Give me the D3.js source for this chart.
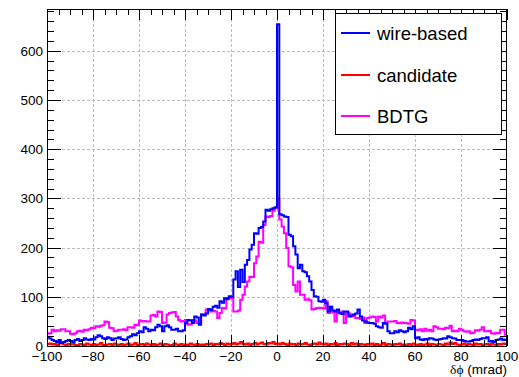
<!DOCTYPE html>
<html><head><meta charset="utf-8">
<script src="https://cdn.jsdelivr.net/npm/d3@7"></script>
<style>body{margin:0;background:#fff;} svg{display:block;}</style>
</head><body>
<svg id="c" width="519" height="377"></svg>
<script>
// ---- data ----
const binEdgesStart = -100; // first bin lower edge (mrad), bin width 1
const binWidth = 1;
const wireBased = [
 18,15,12,10,8,12,6,8,10,12,
 10,8,12,14,10,12,16,13,12,14,
 13,18,22,20,16,14,18,16,12,15,
 16,18,14,12,13,18,20,24,22,26,
 30,28,38,35,30,33,32,38,43,40,
 30,40,42,38,33,33,35,30,30,32,
 47,53,52,47,60,58,43,64,62,66,
 75,73,80,82,78,91,88,97,95,101,
 100,135,152,120,155,130,165,175,196,206,
 229,228,240,242,253,277,275,278,280,282,
 654,268,266,263,262,226,223,203,186,158,
 165,152,150,142,131,114,101,100,91,90,
 94,87,70,80,72,70,74,67,65,70,
 70,60,62,64,66,74,60,52,50,48,
 47,47,45,40,38,37,47,45,30,26,
 26,30,28,32,30,28,30,37,34,40,
 16,18,13,12,14,13,16,15,13,12,
 13,14,16,15,20,18,16,15,12,12,
 12,10,9,9,10,12,13,12,14,16,
 16,18,9,10,8,12,13,15,12,13
];
const candidate = [
 4,5,3,4,2,5,6,3,2,4,
 3,5,2,1,4,3,2,5,3,2,
 4,2,3,6,2,1,3,4,2,5,
 3,2,4,1,3,5,2,3,6,2,
 3,4,2,5,3,1,4,2,3,5,
 2,4,3,1,2,5,3,2,4,1,
 3,2,5,3,1,4,2,3,2,4,
 3,5,2,4,3,6,4,2,5,3,
 4,6,3,5,8,4,3,5,2,4,
 6,3,5,7,4,3,6,5,8,4,
 5,3,6,4,2,5,3,4,2,5,
 3,4,6,3,2,4,5,3,7,4,
 3,5,2,4,3,6,2,4,3,5,
 4,2,6,3,5,2,4,3,2,4,
 3,5,2,4,1,3,6,2,4,3,
 2,4,3,5,2,3,1,4,2,5,
 3,2,4,1,3,5,2,4,3,2,
 4,3,2,5,3,7,4,6,3,2,
 3,5,2,4,3,2,5,3,4,2,
 3,4,2,5,3,2,4,3,5,4
];
const bdtg = [
 25,26,33,30,32,31,34,34,30,30,
 25,24,26,30,31,29,33,32,34,37,
 36,40,39,41,42,50,49,37,36,30,
 31,33,33,34,32,38,38,37,43,42,
 52,50,51,50,50,62,63,60,70,69,
 47,48,64,67,68,69,60,53,50,51,
 53,43,44,53,52,47,46,64,63,74,
 73,70,71,70,57,67,77,76,97,98,
 97,70,70,72,94,104,121,131,141,140,
 168,182,212,210,246,263,262,264,275,280,
 300,257,243,229,199,162,160,124,111,131,
 104,104,94,95,93,74,75,77,78,77,
 76,91,67,80,68,50,67,66,70,47,
 67,66,60,61,57,57,55,58,47,57,
 58,60,59,50,60,58,62,47,50,50,
 50,51,47,46,48,47,46,45,53,52,
 33,32,34,30,35,31,33,30,40,38,
 35,35,34,37,36,41,30,31,30,35,
 33,30,29,30,26,27,32,31,33,38,
 30,30,31,26,25,27,26,33,33,23
];
const xTickValues = [-100,-80,-60,-40,-20,0,20,40,60,80,100];
const yTickValues = [0,100,200,300,400,500,600];
const legendLabels = ["wire-based","candidate","BDTG"];
const xTitle = ["δϕ", " (mrad)"];

// ---- layout ----
const L = 47, R = 507, T = 9, B = 346;
const svg = d3.select("#c");
const x = d3.scaleLinear().domain([-100,100]).range([L,R]);
const y = d3.scaleLinear().domain([0,685]).range([B,T]);
const font = "'Liberation Sans', Arial, Helvetica, sans-serif";

// grid
const grid = svg.append("g").attr("stroke","#bdbdbd").attr("stroke-width",1).attr("stroke-dasharray","3,2");
xTickValues.filter(v=>v>-100&&v<100).forEach(v=>{
  grid.append("line").attr("x1",Math.round(x(v))+0.5).attr("x2",Math.round(x(v))+0.5).attr("y1",T).attr("y2",B);
});
yTickValues.filter(v=>v>0).forEach(v=>{
  grid.append("line").attr("y1",Math.round(y(v))+0.5).attr("y2",Math.round(y(v))+0.5).attr("x1",L).attr("x2",R);
});

// histograms
function stepPoints(vals){
  const pts = vals.map((v,i)=>[binEdgesStart+i*binWidth, v]);
  pts.push([binEdgesStart+vals.length*binWidth, vals[vals.length-1]]);
  return pts;
}
const line = d3.line().x(d=>x(d[0])).y(d=>y(d[1])).curve(d3.curveStepAfter);
const series = [
  {vals:bdtg, color:"#ff00ff"},
  {vals:candidate, color:"#ff0000"},
  {vals:wireBased, color:"#0000ff"}
];
series.forEach(s=>{
  svg.append("path").attr("d",line(stepPoints(s.vals))).attr("fill","none")
    .attr("stroke",s.color).attr("stroke-width",2).attr("stroke-linejoin","miter");
});

// frame
svg.append("rect").attr("x",L+0.5).attr("y",T+0.5).attr("width",R-L-1).attr("height",B-T)
  .attr("fill","none").attr("stroke","#000").attr("stroke-width",1);

// ticks
const tk = svg.append("g").attr("stroke","#000").attr("stroke-width",1);
for(let v=-100; v<=100; v+=5){
  const major = v%20===0; const len = major?11:6; const px = Math.round(x(v))+0.5;
  tk.append("line").attr("x1",px).attr("x2",px).attr("y1",B).attr("y2",B-len);
  tk.append("line").attr("x1",px).attr("x2",px).attr("y1",T).attr("y2",T+len);
}
for(let v=0; v<=680; v+=20){
  const major = v%100===0; const len = major?14:7; const py = Math.round(y(v))+0.5;
  tk.append("line").attr("y1",py).attr("y2",py).attr("x1",L).attr("x2",L+len);
  tk.append("line").attr("y1",py).attr("y2",py).attr("x1",R).attr("x2",R-len);
}

// tick labels
const fmt = v => v<0 ? "\u2212"+Math.abs(v) : String(v);
svg.append("g").selectAll("text").data(xTickValues).join("text")
  .attr("x",d=>x(d)).attr("y",B+15).attr("text-anchor","middle")
  .attr("font-family",font).attr("font-size",13.5).text(fmt);
svg.append("g").selectAll("text").data(yTickValues).join("text")
  .attr("x",L-4).attr("y",d=>y(d)+5).attr("text-anchor","end")
  .attr("font-family",font).attr("font-size",13.5).text(d=>d);

// x title
const xt = svg.append("text").attr("x",R).attr("y",374).attr("text-anchor","end")
  .attr("font-family",font).attr("font-size",13.5);
xt.append("tspan").attr("font-family","'Liberation Serif','DejaVu Serif',serif").text(xTitle[0]);
xt.append("tspan").text(xTitle[1]);

// legend
const lg = svg.append("g");
lg.append("rect").attr("x",335.5).attr("y",13.5).attr("width",166).attr("height",121)
  .attr("fill","#fff").attr("stroke","#000").attr("stroke-width",1);
const legColors = ["#0000ff","#ff0000","#ff00ff"];
const legY = [33,75,116];
legendLabels.forEach((lab,i)=>{
  lg.append("line").attr("x1",341).attr("x2",370).attr("y1",legY[i]).attr("y2",legY[i])
    .attr("stroke",legColors[i]).attr("stroke-width",2);
  lg.append("text").attr("x",377).attr("y",legY[i]+6.5).attr("font-family",font)
    .attr("font-size",18.5).text(lab);
});
</script>
</body></html>
